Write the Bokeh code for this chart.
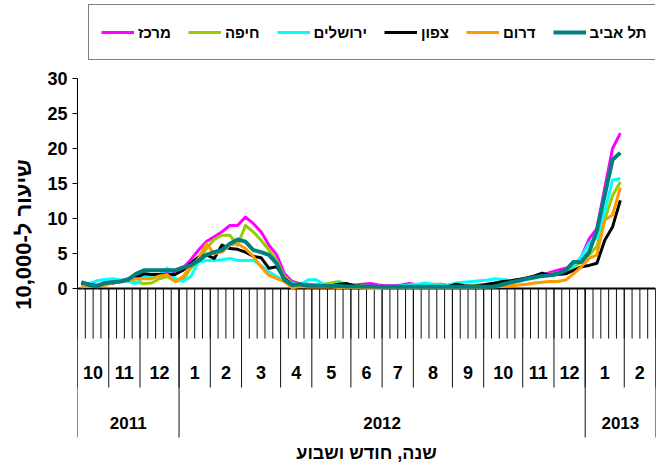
import numpy as np
from bokeh.plotting import figure
from bokeh.models import Range1d, LinearAxis, FixedTicker, Legend, LegendItem, Title
from bokeh.core.properties import value
from bokeh.embed import file_html
from bokeh.resources import INLINE

# ---------------- data ----------------
month_labels = ["10", "11", "12", "1", "2", "3", "4", "5", "6", "7", "8", "9", "10", "11", "12", "1", "2"]
weeks_per_month = [4, 4, 5, 4, 4, 5, 4, 5, 4, 4, 5, 4, 5, 4, 4, 5, 4]
year_labels = ["2011", "2012", "2013"]
months_per_year = [3, 12, 2]

series_names = ["מרכז", "חיפה", "ירושלים", "צפון", "דרום", "תל אביב"]
series_colors = ["#FF00FF", "#99CC00", "#00FFFF", "#000000", "#FF9900", "#008080"]

merkaz = [0.7, 0.6, 0.5, 0.8, 1.0, 1.1, 1.4, 1.7, 1.8, 1.7, 1.9, 2.2, 2.4,
          2.9, 4.1, 5.5, 6.7, 7.4, 8.1, 9.0, 9.0, 10.2, 9.3, 8.1, 6.2, 4.8, 2.1, 1.0, 0.7, 0.6,
          0.5, 0.5, 0.4, 0.4, 0.4, 0.5, 0.6, 0.7, 0.5, 0.4, 0.4, 0.5, 0.7, 0.5, 0.3, 0.4,
          0.6, 0.4, 0.3, 0.3, 0.4, 0.5, 0.6, 0.7, 0.8, 1.0, 1.2, 1.4, 1.6, 1.9, 2.3, 2.6,
          2.9, 3.1, 4.5, 7.1, 8.6, 14.3, 20.0, 22.2]
haifa = [0.3, 0.3, 0.4, 0.6, 0.8, 1.0, 1.1, 0.9, 0.7, 0.8, 1.4, 1.7, 1.0,
         1.2, 2.9, 4.0, 5.7, 7.0, 7.6, 7.6, 6.2, 9.0, 8.1, 6.9, 5.5, 4.0, 1.7, 0.7, 0.6, 0.5,
         0.5, 0.6, 0.8, 1.0, 0.5, 0.4, 0.4, 0.3, 0.3, 0.3, 0.3, 0.3, 0.3, 0.3, 0.4, 0.6,
         0.6, 0.4, 0.3, 0.3, 0.4, 0.5, 0.6, 0.8, 1.0, 1.1, 1.3, 1.5, 1.6, 1.8, 2.0, 2.2,
         2.4, 3.1, 3.8, 4.8, 6.0, 9.8, 13.3, 15.2]
jerusalem = [0.8, 0.7, 1.1, 1.3, 1.4, 1.2, 1.0, 0.7, 1.7, 1.8, 1.9, 2.9, 1.4,
             1.0, 1.7, 3.8, 4.0, 4.0, 4.1, 4.3, 4.0, 4.0, 4.0, 3.3, 2.4, 1.7, 1.0, 0.7, 0.5, 1.2,
             1.3, 0.6, 0.5, 0.7, 0.6, 0.3, 0.1, 0.0, 0.0, 0.2, 0.3, 0.4, 0.5, 0.6, 0.8, 0.6,
             0.4, 0.5, 0.8, 0.9, 1.0, 1.1, 1.2, 1.4, 1.3, 1.1, 1.2, 1.3, 1.5, 1.7, 1.9, 2.1,
             2.6, 3.3, 4.5, 6.5, 7.2, 11.0, 15.5, 15.7]
tsafon = [0.8, 0.6, 0.4, 0.6, 0.8, 1.0, 1.2, 1.6, 2.1, 2.0, 2.0, 2.0, 2.0,
          2.6, 3.6, 4.5, 4.8, 4.3, 6.2, 5.7, 5.6, 5.2, 4.6, 4.4, 2.9, 3.1, 1.4, 0.5, 0.5, 0.3,
          0.3, 0.3, 0.4, 0.6, 0.7, 0.4, 0.3, 0.2, 0.2, 0.2, 0.2, 0.3, 0.3, 0.2, 0.3, 0.3,
          0.3, 0.3, 0.6, 0.4, 0.3, 0.4, 0.6, 0.8, 1.0, 1.1, 1.3, 1.5, 1.8, 2.2, 1.9, 2.0,
          2.1, 2.6, 3.1, 3.3, 3.6, 6.9, 8.8, 12.6]
darom = [0.2, 0.4, 0.4, 0.4, 0.8, 1.0, 1.2, 1.4, 1.4, 1.4, 1.8, 2.0, 1.0,
         1.7, 3.1, 4.3, 6.4, 5.0, 5.2, 6.2, 6.4, 5.7, 4.6, 3.1, 1.9, 1.4, 1.0, 0.1, 0.3, 0.2,
         0.2, 0.2, 0.2, 0.15, 0.15, 0.15, 0.1, 0.1, 0.1, 0.1, 0.1, 0.1, 0.1, 0.1, 0.1, 0.1,
         0.1, 0.1, 0.1, 0.1, 0.15, 0.15, 0.2, 0.25, 0.3, 0.4, 0.5, 0.6, 0.8, 0.9, 1.0, 1.0,
         1.2, 2.1, 3.1, 4.3, 4.8, 9.8, 10.5, 14.4]
tel_aviv = [0.9, 0.5, 0.3, 0.8, 0.9, 1.0, 1.3, 2.1, 2.6, 2.6, 2.6, 2.6, 2.6,
            3.0, 3.3, 4.0, 4.8, 5.2, 5.5, 6.4, 7.0, 6.7, 5.5, 5.2, 4.8, 3.6, 1.2, 0.5, 0.6, 0.4,
            0.4, 0.4, 0.35, 0.35, 0.3, 0.3, 0.3, 0.3, 0.25, 0.25, 0.25, 0.25, 0.25, 0.25, 0.25, 0.25,
            0.25, 0.25, 0.25, 0.25, 0.25, 0.25, 0.25, 0.3, 0.6, 0.9, 1.1, 1.4, 1.6, 1.8, 1.9, 2.1,
            2.6, 3.8, 3.8, 5.2, 8.3, 13.3, 18.4, 19.4]

series_values = [merkaz, haifa, jerusalem, tsafon, darom, tel_aviv]

y_ticks = [0, 5, 10, 15, 20, 25, 30]
y_title = "שיעור ל-10,000"
x_title = "שנה, חודש ושבוע"

# ---------------- layout constants (pixels from figure top) ----------------
FIG_W, FIG_H = 660, 468
N_WEEKS = sum(weeks_per_month)
PX_PER_UNIT = 7.0
ZERO_PX = 288
Y_MAX = 30
WEEK_TICK_PX = ZERO_PX + 50
MONTH_SEP_PX = ZERO_PX + 99
YEAR_SEP_PX = ZERO_PX + 149
MONTH_LABEL_PX = ZERO_PX + 84
YEAR_LABEL_PX = ZERO_PX + 134
TITLE_PX = ZERO_PX + 164

FONT = "Liberation Sans"

p = figure(width=FIG_W, height=FIG_H,
           x_range=Range1d(0, N_WEEKS),
           y_range=Range1d(-(FIG_H - ZERO_PX) / PX_PER_UNIT, ZERO_PX / PX_PER_UNIT),
           x_axis_location=None, y_axis_location=None,
           output_backend="svg", toolbar_location=None,
           min_border_left=77, min_border_right=5, min_border_top=0, min_border_bottom=0)
p.extra_y_ranges = {"px": Range1d(FIG_H, 0)}
p.outline_line_color = None
p.xgrid.visible = False
p.ygrid.visible = False
p.background_fill_color = "white"
p.border_fill_color = "white"

yaxis = LinearAxis(ticker=FixedTicker(ticks=y_ticks), bounds=(0, Y_MAX),
                   axis_line_color="black", axis_line_width=1,
                   major_tick_line_color="black", major_tick_out=5, major_tick_in=0,
                   minor_tick_out=0, minor_tick_in=0,
                   major_label_text_font=FONT, major_label_text_font_style="bold",
                   major_label_text_font_size="18px", major_label_text_color="black",
                   major_label_standoff=5)
p.add_layout(yaxis, "left")
p.add_layout(Title(text=y_title, align="center", offset=42, standoff=17,
                   text_font=FONT, text_font_style="bold", text_font_size="22px",
                   text_color="black"), "left")

# ---------------- category axis (weeks / months / years) ----------------
bounds = np.arange(N_WEEKS + 1)
month_bounds = np.concatenate([[0], np.cumsum(weeks_per_month)])
year_bounds = month_bounds[np.concatenate([[0], np.cumsum(months_per_year)])]

p.segment(x0=bounds, y0=[ZERO_PX] * len(bounds), x1=bounds, y1=[WEEK_TICK_PX] * len(bounds),
          y_range_name="px", line_color="#111111", line_width=1)
p.segment(x0=month_bounds, y0=[ZERO_PX] * len(month_bounds), x1=month_bounds,
          y1=[MONTH_SEP_PX] * len(month_bounds), y_range_name="px", line_color="#111111", line_width=1)
p.segment(x0=year_bounds, y0=[ZERO_PX] * len(year_bounds), x1=year_bounds,
          y1=[YEAR_SEP_PX] * len(year_bounds), y_range_name="px", line_color="#111111", line_width=1)
p.segment(x0=[0], y0=[ZERO_PX], x1=[N_WEEKS], y1=[ZERO_PX], y_range_name="px",
          line_color="black", line_width=2)

month_centers = (month_bounds[:-1] + month_bounds[1:]) / 2
year_centers = (year_bounds[:-1] + year_bounds[1:]) / 2
p.text(x=month_centers, y=[MONTH_LABEL_PX] * len(month_centers), text=month_labels,
       y_range_name="px", text_align="center", text_baseline="middle",
       text_font=value(FONT), text_font_style="bold", text_font_size="18px", text_color="black")
p.text(x=year_centers, y=[YEAR_LABEL_PX] * len(year_centers), text=year_labels,
       y_range_name="px", text_align="center", text_baseline="middle",
       text_font=value(FONT), text_font_style="bold", text_font_size="17px", text_color="black")
p.text(x=[N_WEEKS / 2], y=[TITLE_PX], text=[x_title],
       y_range_name="px", text_align="center", text_baseline="middle",
       text_font=value(FONT), text_font_style="bold", text_font_size="18px", text_color="black")

# ---------------- series ----------------
renderers = []
for name, color, vals in zip(series_names, series_colors, series_values):
    xs = np.arange(len(vals)) + 0.5
    lw = 4 if name == "תל אביב" else 3
    r = p.line(xs, vals, line_color=color, line_width=lw, line_join="round")
    renderers.append(r)

legend = Legend(items=[LegendItem(label=n, renderers=[r]) for n, r in zip(series_names, renderers)],
                orientation="horizontal", location=(11, FIG_H - 60),
                border_line_color="black", border_line_width=1,
                background_fill_color="white", background_fill_alpha=1,
                label_text_font=FONT, label_text_font_style="bold",
                label_text_font_size="15px", label_text_color="black",
                glyph_width=33, glyph_height=30, label_height=30,
                label_standoff=4, spacing=17, padding=12, margin=0)
p.add_layout(legend, "center")

open("out.html", "w").write(file_html(p, INLINE))
